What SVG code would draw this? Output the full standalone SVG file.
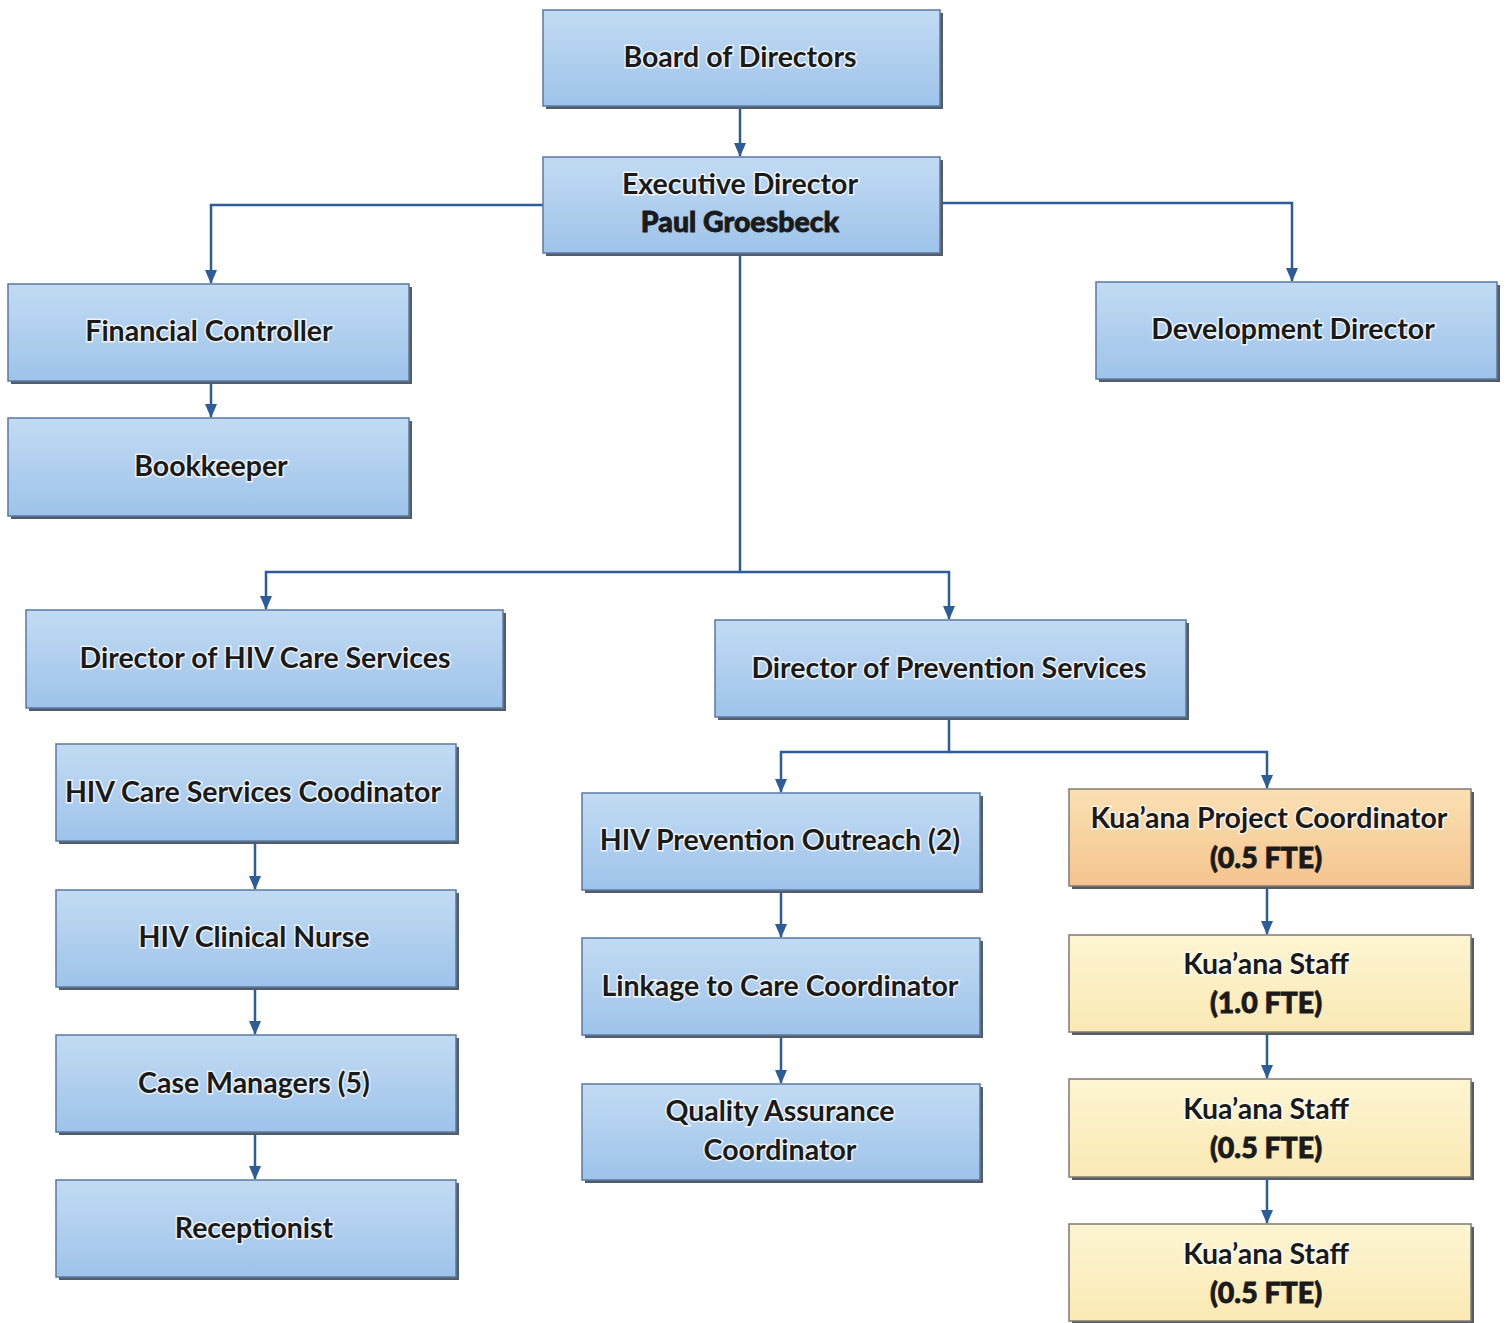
<svg xmlns="http://www.w3.org/2000/svg" width="1507" height="1323" viewBox="0 0 1507 1323">
<style>
.t{font-family:Lato,"Liberation Sans",sans-serif;font-size:28.5px;font-weight:700;fill:#1a1a1a;text-anchor:middle;stroke:#ffffff;stroke-width:3;stroke-opacity:0.75;paint-order:stroke;}
.b{font-weight:900;stroke:#1a1a1a;stroke-width:0.8;stroke-opacity:1;}
.blue{fill:url(#gb);stroke:#5a7aa3;stroke-width:1.5;}
.or{fill:url(#go);stroke:#7f7a70;stroke-width:1.5;}
.ye{fill:url(#gy);stroke:#7f7a70;stroke-width:1.5;}
.sh{fill:#555c66;}
.c{fill:none;stroke:#2c5d98;stroke-width:2.5;marker-end:url(#ah);}
</style>
<defs>
<linearGradient id="gb" x1="0" y1="0" x2="0" y2="1"><stop offset="0" stop-color="#c2dbf3"/><stop offset="1" stop-color="#9ec3ea"/></linearGradient>
<linearGradient id="go" x1="0" y1="0" x2="0" y2="1"><stop offset="0" stop-color="#fbe0b2"/><stop offset="1" stop-color="#f4c48f"/></linearGradient>
<linearGradient id="gy" x1="0" y1="0" x2="0" y2="1"><stop offset="0" stop-color="#fdf5d2"/><stop offset="1" stop-color="#fae9b4"/></linearGradient>
<marker id="ah" markerWidth="14" markerHeight="12" refX="13" refY="6" orient="auto" markerUnits="userSpaceOnUse" viewBox="0 0 14 12"><path d="M0,0 L14,6 L0,12 z" fill="#2c5d98"/></marker>
</defs>
<rect width="1507" height="1323" fill="#ffffff"/>
<g id="connectors">
<path class="c" d="M740,106 V156"/>
<path class="c" d="M543,205 H211 V283"/>
<path class="c" d="M940,203 H1292 V281"/>
<path class="c" d="M211,381 V417"/>
<path class="c" d="M740,253 V572 H266 V609"/>
<path class="c" d="M740,572 H949 V619"/>
<path class="c" d="M255,841 V889"/>
<path class="c" d="M255,987 V1034"/>
<path class="c" d="M255,1132 V1179"/>
<path class="c" d="M949,717 V752 H781 V792"/>
<path class="c" d="M949,752 H1267 V788"/>
<path class="c" d="M781,890 V937"/>
<path class="c" d="M781,1035 V1083"/>
<path class="c" d="M1267,886 V934"/>
<path class="c" d="M1267,1032 V1078"/>
<path class="c" d="M1267,1177 V1223"/>
</g>
<g id="board"><rect class="sh" x="546" y="13" width="397" height="96"/><rect class="blue" x="543" y="10" width="397" height="96"/><text class="t" x="740" y="67">Board of Directors</text></g>
<g id="exec"><rect class="sh" x="546" y="160" width="397" height="96"/><rect class="blue" x="543" y="157" width="397" height="96"/><text class="t" x="740" y="194">Executive Director</text><text class="t b" x="740" y="232">Paul Groesbeck</text></g>
<g id="finctl"><rect class="sh" x="11" y="287" width="401" height="97"/><rect class="blue" x="8" y="284" width="401" height="97"/><text class="t" x="209" y="341">Financial Controller</text></g>
<g id="bookkeeper"><rect class="sh" x="11" y="421" width="401" height="98"/><rect class="blue" x="8" y="418" width="401" height="98"/><text class="t" x="211" y="476">Bookkeeper</text></g>
<g id="devdir"><rect class="sh" x="1099" y="285" width="401" height="97"/><rect class="blue" x="1096" y="282" width="401" height="97"/><text class="t" x="1293" y="339">Development Director</text></g>
<g id="hivcaredir"><rect class="sh" x="29" y="613" width="477" height="98"/><rect class="blue" x="26" y="610" width="477" height="98"/><text class="t" x="265" y="668">Director of HIV Care Services</text></g>
<g id="prevdir"><rect class="sh" x="718" y="623" width="471" height="97"/><rect class="blue" x="715" y="620" width="471" height="97"/><text class="t" x="949" y="678">Director of Prevention Services</text></g>
<g id="hivcarecoord"><rect class="sh" x="59" y="747" width="400" height="97"/><rect class="blue" x="56" y="744" width="400" height="97"/><text class="t" x="253" y="802">HIV Care Services Coodinator</text></g>
<g id="nurse"><rect class="sh" x="59" y="893" width="400" height="97"/><rect class="blue" x="56" y="890" width="400" height="97"/><text class="t" x="254" y="947">HIV Clinical Nurse</text></g>
<g id="casemgr"><rect class="sh" x="59" y="1038" width="400" height="97"/><rect class="blue" x="56" y="1035" width="400" height="97"/><text class="t" x="254" y="1093">Case Managers (5)</text></g>
<g id="reception"><rect class="sh" x="59" y="1183" width="400" height="97"/><rect class="blue" x="56" y="1180" width="400" height="97"/><text class="t" x="254" y="1238">Receptionist</text></g>
<g id="outreach"><rect class="sh" x="585" y="796" width="398" height="97"/><rect class="blue" x="582" y="793" width="398" height="97"/><text class="t" x="780" y="850">HIV Prevention Outreach (2)</text></g>
<g id="linkage"><rect class="sh" x="585" y="941" width="398" height="97"/><rect class="blue" x="582" y="938" width="398" height="97"/><text class="t" x="780" y="996">Linkage to Care Coordinator</text></g>
<g id="qa"><rect class="sh" x="585" y="1087" width="398" height="96"/><rect class="blue" x="582" y="1084" width="398" height="96"/><text class="t" x="780" y="1121">Quality Assurance</text><text class="t" x="780" y="1160">Coordinator</text></g>
<g id="kpc"><rect class="sh" x="1072" y="792" width="402" height="97"/><rect class="or" x="1069" y="789" width="402" height="97"/><text class="t" x="1269" y="828">Kua’ana Project Coordinator</text><text class="t b" x="1266" y="868">(0.5 FTE)</text></g>
<g id="ks1"><rect class="sh" x="1072" y="938" width="402" height="97"/><rect class="ye" x="1069" y="935" width="402" height="97"/><text class="t" x="1266" y="974">Kua’ana Staff</text><text class="t b" x="1266" y="1013">(1.0 FTE)</text></g>
<g id="ks2"><rect class="sh" x="1072" y="1082" width="402" height="98"/><rect class="ye" x="1069" y="1079" width="402" height="98"/><text class="t" x="1266" y="1119">Kua’ana Staff</text><text class="t b" x="1266" y="1158">(0.5 FTE)</text></g>
<g id="ks3"><rect class="sh" x="1072" y="1227" width="402" height="97"/><rect class="ye" x="1069" y="1224" width="402" height="97"/><text class="t" x="1266" y="1264">Kua’ana Staff</text><text class="t b" x="1266" y="1303">(0.5 FTE)</text></g>
</svg>
